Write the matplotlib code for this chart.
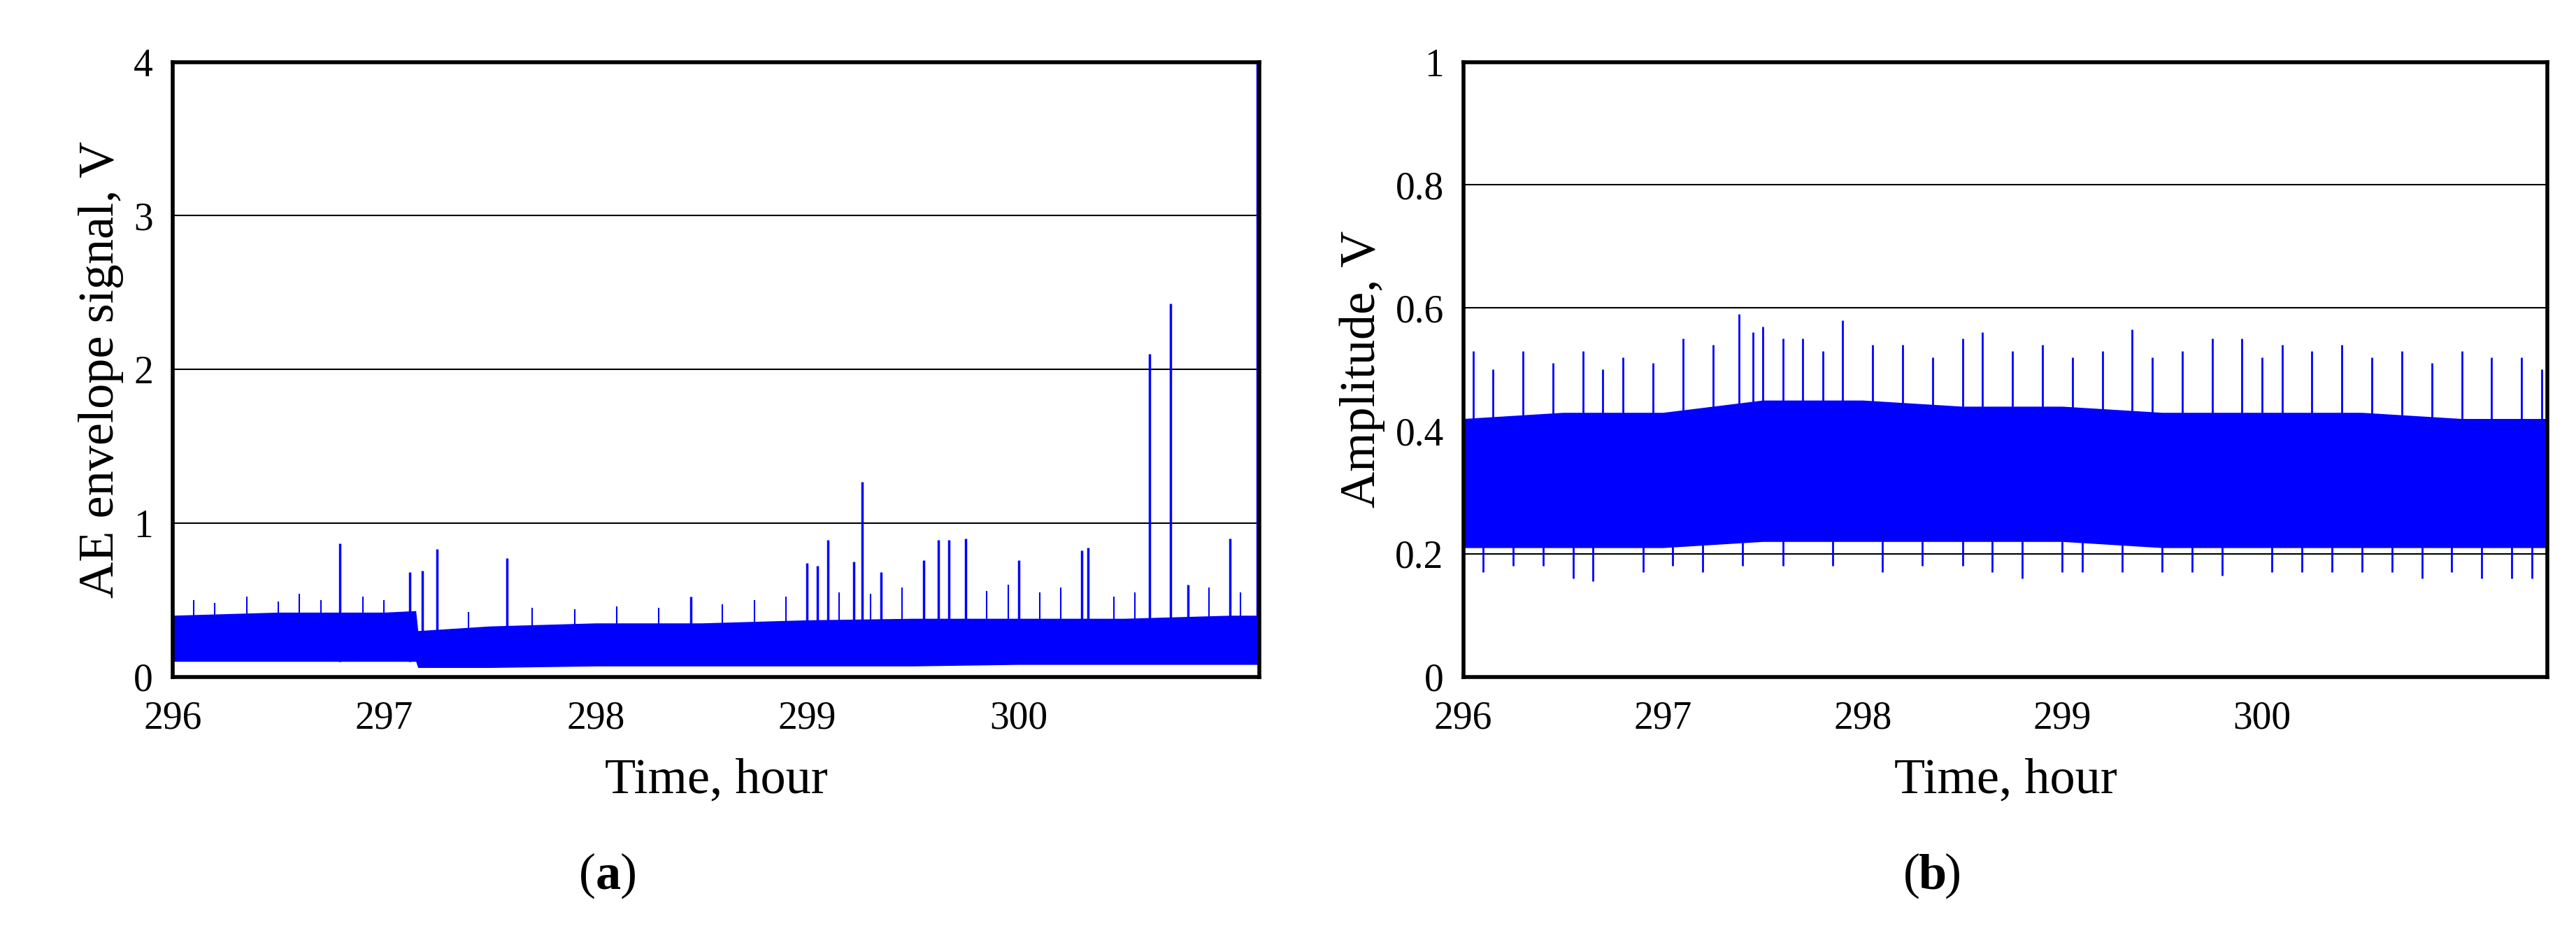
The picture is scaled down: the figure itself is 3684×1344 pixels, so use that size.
import matplotlib
matplotlib.use("Agg")
import matplotlib.pyplot as plt

plt.rcParams['font.family'] = ['Liberation Serif', 'DejaVu Serif']

# ---- panel (a): envelope band (time, lower, upper) and spikes ----
a_band_t = [296.0, 296.5, 297.0, 297.15, 297.16, 297.5, 298.0, 298.5, 299.0, 299.5, 300.0, 300.5, 301.0, 301.14]
a_band_lo = [0.10, 0.10, 0.10, 0.10, 0.06, 0.06, 0.07, 0.07, 0.07, 0.07, 0.08, 0.08, 0.08, 0.08]
a_band_hi = [0.40, 0.42, 0.42, 0.43, 0.30, 0.33, 0.35, 0.35, 0.37, 0.38, 0.38, 0.38, 0.40, 0.40]
a_spike_t = [296.79, 297.12, 297.18, 297.25, 297.58, 298.45, 299.0, 299.05, 299.1, 299.22, 299.26,
             299.35, 299.55, 299.62, 299.67, 299.75, 300.0, 300.3, 300.33, 300.62, 300.72, 300.8, 301.0, 301.13]
a_spike_v = [0.87, 0.68, 0.69, 0.83, 0.77, 0.52, 0.74, 0.72, 0.89, 0.75, 1.27,
             0.68, 0.76, 0.89, 0.89, 0.90, 0.76, 0.82, 0.84, 2.10, 2.43, 0.60, 0.90, 4.0]
a_small_t = [296.1, 296.2, 296.35, 296.5, 296.6, 296.7, 296.9, 297.0, 297.4, 297.7, 297.9, 298.1, 298.3,
             298.6, 298.75, 298.9, 299.15, 299.3, 299.45, 299.85, 299.95, 300.1, 300.2, 300.45,
             300.55, 300.9, 301.05]
a_small_v = [0.50, 0.48, 0.52, 0.49, 0.54, 0.50, 0.52, 0.50, 0.42, 0.45, 0.44, 0.46, 0.45,
             0.47, 0.50, 0.52, 0.55, 0.54, 0.58, 0.56, 0.60, 0.55, 0.58, 0.52,
             0.55, 0.58, 0.55]

# ---- panel (b): amplitude band and spikes ----
b_band_t = [296.0, 296.5, 297.0, 297.5, 298.0, 298.5, 299.0, 299.5, 300.0, 300.5, 301.0, 301.43]
b_band_lo = [0.21, 0.21, 0.21, 0.22, 0.22, 0.22, 0.22, 0.21, 0.21, 0.21, 0.21, 0.21]
b_band_hi = [0.42, 0.43, 0.43, 0.45, 0.45, 0.44, 0.44, 0.43, 0.43, 0.43, 0.42, 0.42]
b_up_t = [296.05, 296.15, 296.3, 296.45, 296.6, 296.7, 296.8, 296.95, 297.1, 297.25, 297.38, 297.45,
          297.5, 297.6, 297.7, 297.8, 297.9, 298.05, 298.2, 298.35, 298.5, 298.6, 298.75, 298.9,
          299.05, 299.2, 299.35, 299.45, 299.6, 299.75, 299.9, 300.0, 300.1, 300.25, 300.4,
          300.55, 300.7, 300.85, 301.0, 301.15, 301.3, 301.4]
b_up_v = [0.53, 0.50, 0.53, 0.51, 0.53, 0.50, 0.52, 0.51, 0.55, 0.54, 0.59, 0.56,
          0.57, 0.55, 0.55, 0.53, 0.58, 0.54, 0.54, 0.52, 0.55, 0.56, 0.53, 0.54,
          0.52, 0.53, 0.565, 0.52, 0.53, 0.55, 0.55, 0.52, 0.54, 0.53, 0.54,
          0.52, 0.53, 0.51, 0.53, 0.52, 0.52, 0.50]
b_dn_t = [296.1, 296.25, 296.4, 296.55, 296.65, 296.9, 297.05, 297.2, 297.4, 297.6, 297.85, 298.1,
          298.3, 298.5, 298.65, 298.8, 299.0, 299.1, 299.3, 299.5, 299.65, 299.8, 300.05, 300.2,
          300.35, 300.5, 300.65, 300.8, 300.95, 301.1, 301.25, 301.35]
b_dn_v = [0.17, 0.18, 0.18, 0.16, 0.155, 0.17, 0.18, 0.17, 0.18, 0.18, 0.18, 0.17,
          0.18, 0.18, 0.17, 0.16, 0.17, 0.17, 0.17, 0.17, 0.17, 0.165, 0.17, 0.17,
          0.17, 0.17, 0.17, 0.16, 0.17, 0.16, 0.16, 0.16]

BLUE = '#0000ff'
fig = plt.figure(figsize=(36.84, 13.44), dpi=100)
axa = fig.add_axes([0.067, 0.280, 0.422, 0.654])
axb = fig.add_axes([0.568, 0.280, 0.421, 0.654])

def style(ax, ymax, yticks, ylabels, xmax, ylabel):
    ax.set_xlim(296, xmax)
    ax.set_ylim(0, ymax)
    ax.set_xticks([296, 297, 298, 299, 300])
    ax.set_yticks(yticks)
    ax.set_yticklabels(ylabels)
    ax.tick_params(labelsize=40, length=0)
    ax.tick_params(axis='x', pad=24)
    ax.tick_params(axis='y', pad=20)
    for yy in yticks[1:-1]:
        ax.axhline(yy, color='black', lw=1.5, zorder=0)
    for s in ax.spines.values():
        s.set_linewidth(4)
    ax.set_xlabel('Time, hour', fontsize=52, labelpad=22)
    ax.set_ylabel(ylabel, fontsize=52, labelpad=10)

axa.fill_between(a_band_t, a_band_lo, a_band_hi, color=BLUE, lw=0)
axa.vlines(a_small_t, 0.1, a_small_v, color=BLUE, lw=1.5)
axa.vlines(a_spike_t, 0.1, a_spike_v, color=BLUE, lw=2.5)
style(axa, 4, [0, 1, 2, 3, 4], ['0', '1', '2', '3', '4'], 301.14, 'AE envelope signal, V')

axb.fill_between(b_band_t, b_band_lo, b_band_hi, color=BLUE, lw=0)
axb.vlines(b_up_t, 0.3, b_up_v, color=BLUE, lw=2)
axb.vlines(b_dn_t, b_dn_v, 0.3, color=BLUE, lw=2)
style(axb, 1, [0, 0.2, 0.4, 0.6, 0.8, 1.0], ['0', '0.2', '0.4', '0.6', '0.8', '1'], 301.43, 'Amplitude, V')

for x, s in [(0.236, 'a'), (0.75, 'b')]:
    fig.text(x - 0.008, 0.055, '(', fontsize=52, ha='center')
    fig.text(x, 0.055, s, fontsize=52, ha='center', fontweight='bold')
    fig.text(x + 0.008, 0.055, ')', fontsize=52, ha='center')
fig.savefig('out.png', dpi=100)
